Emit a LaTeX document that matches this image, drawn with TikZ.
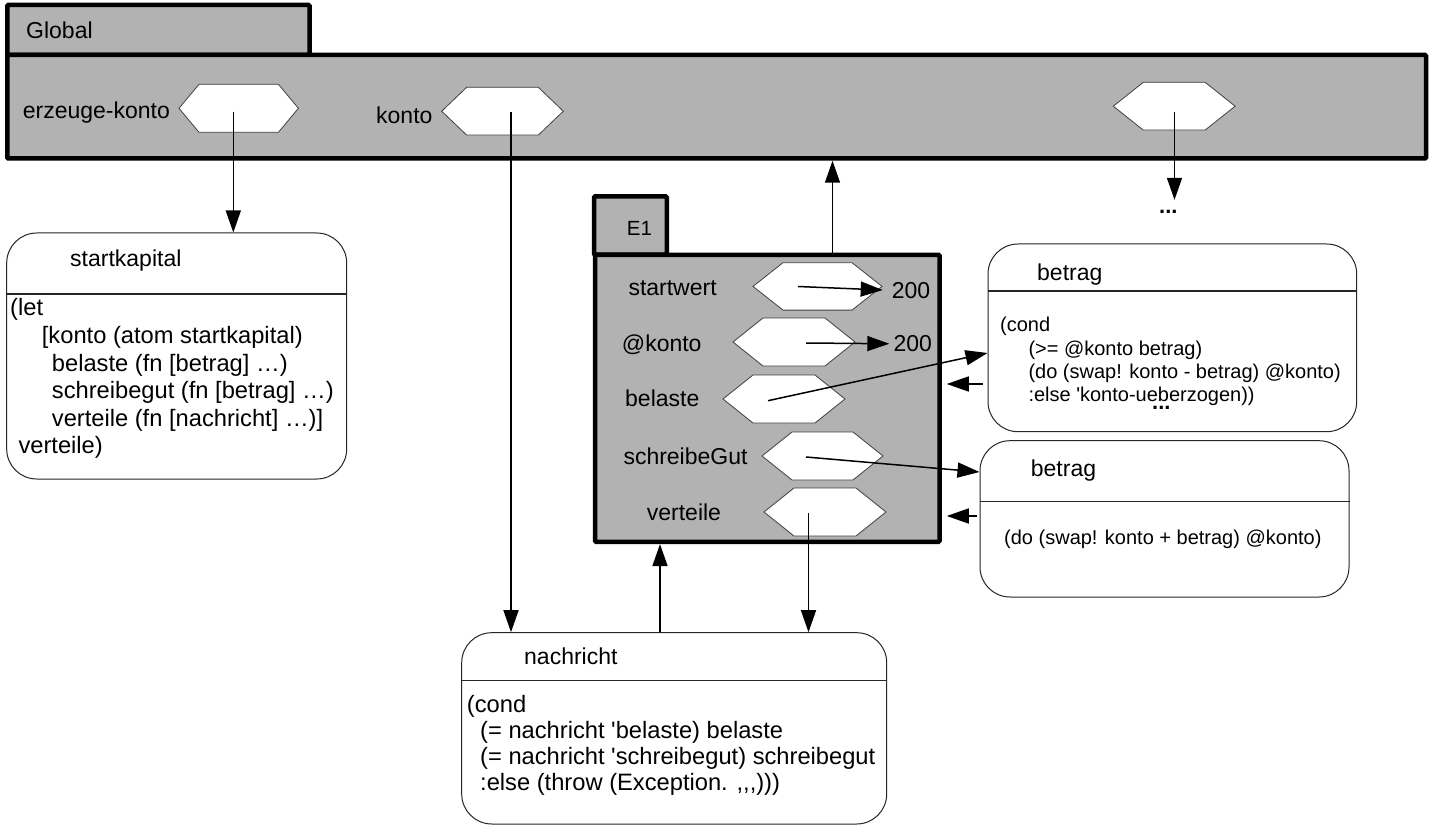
\documentclass[tikz,border=0pt]{standalone}
\usepackage{fontspec}
\setmainfont{Liberation Sans}
\usetikzlibrary{arrows.meta}
\definecolor{framegray}{gray}{0.70}
\definecolor{hexgray}{gray}{0.25}
\newcommand\hexa[6]{%
  \draw[hexline] ({#2-#4},#3) -- ({#2-#4+#5},{#3-#6}) -- ({#2+#4-#5},{#3-#6}) -- ({#2+#4},#3)
    -- ({#2+#4-#5},{#3+#6}) -- ({#2-#4+#5},{#3+#6}) -- cycle;
  \coordinate (#1) at (#2,#3);}
\begin{document}
\begin{tikzpicture}[x=1pt,y=-1pt,
  frame/.style={draw=black, line width=4.5pt, fill=framegray, rounded corners=1pt, inner sep=0pt},
  rbox/.style={draw=black!85, line width=1pt, fill=white, rounded corners=30pt, inner sep=0pt},
  divline/.style={draw=black!85, line width=1.2pt},
  hexline/.style={draw=hexgray, line width=0.8pt, fill=white},
  arr/.style={line width=1.5pt, -{Triangle[length=22pt,width=15pt]}},
  lbl/.style={inner sep=0pt, anchor=base west, font=\fontsize{23}{27}\selectfont},
  code/.style={inner sep=0pt, anchor=base west, font=\fontsize{23.7}{27}\selectfont},
  codesm/.style={inner sep=0pt, anchor=base west, font=\fontsize{20}{23}\selectfont},
  dotsty/.style={inner sep=0pt, anchor=base west, font=\bfseries\fontsize{22}{24}\selectfont},
]
\useasboundingbox (0,0) rectangle (1433,829);

% Global frame
\node[frame, minimum width=302.2pt, minimum height=50pt] (gtab) at (158.4,30) {};
\node[frame, minimum width=1418.7pt, minimum height=103.5pt] (glob) at (716.65,106.75) {};
\node[lbl] (tGlobal) at (26,39) {Global};
\node[lbl] (tEK) at (22.7,118.3) {erzeuge-konto};
\node[lbl] (tKonto) at (376,123.3) {konto};
\hexa{hek}{238.7}{108.3}{59.7}{20}{24}
\hexa{hk}{502.5}{111.2}{60.8}{25}{23.9}
\hexa{hd}{1174.2}{106.2}{60.9}{30}{23.9}

% E1 frame
\node[frame, minimum width=72.8pt, minimum height=58.2pt] (etab) at (630.4,225.6) {};
\node[frame, minimum width=344.3pt, minimum height=286.9pt] (e1) at (767.35,398.35) {};
\node[lbl, font=\fontsize{20.5}{24}\selectfont] (tE1) at (626.7,236) {E1};
\node[lbl] (tSW) at (628.3,295) {startwert};
\node[lbl] (tAK) at (621.7,351.7) {@konto};
\node[lbl] (tBel) at (625,406.7) {belaste};
\node[lbl] (tSG) at (623.3,464.3) {schreibeGut};
\node[lbl] (tVer) at (646.7,520.7) {verteile};
\hexa{hsw}{817.5}{286.4}{64.5}{30}{23.7}
\hexa{hak}{794}{342}{61}{30}{24}
\hexa{hbel}{784}{399}{61}{30}{24}
\hexa{hsg}{822.5}{456}{60.5}{30}{24}
\hexa{hver}{825}{512}{61}{30}{24}
\node[lbl] (v200a) at (891.7,298.3) {200};
\node[lbl] (v200b) at (893.3,351.7) {200};

% dots below global
\node[dotsty] (gdots) at (1159,213.3) {...};

% startkapital box
\node[rbox, minimum width=340pt, minimum height=246pt] (sk) at (176.7,356) {};
\draw[divline] (sk.west |- 0,294) -- (sk.east |- 0,294);
\node[lbl] (skT) at (70,266) {startkapital};
\node[code] (sk1) at (10,316) {(let};
\node[code] (sk2) at (41.7,343.5) {[konto (atom startkapital)};
\node[code] (sk3) at (51.7,371) {belaste (fn [betrag] …)};
\node[code] (sk4) at (51.7,398.5) {schreibegut (fn [betrag] …)};
\node[code] (sk5) at (51.7,426) {verteile (fn [nachricht] …)]};
\node[code] (sk6) at (18.3,453.5) {verteile)};

% betrag box 1
\node[rbox, minimum width=368.7pt, minimum height=187.7pt] (b1) at (1172.35,337.85) {};
\draw[divline] (b1.west |- 0,291) -- (b1.east |- 0,291);
\node[lbl] (b1T) at (1037,280) {betrag};
\node[codesm] (b1a) at (1000,331) {(cond};
\node[codesm] (b1b) at (1028.3,355) {(>= @konto betrag)};
\node[codesm] (b1c) at (1028.3,378.3) {(do (swap! konto - betrag) @konto)};
\node[codesm] (b1d) at (1028.3,401.3) {:else \textquotesingle konto-ueberzogen))};
\node[dotsty] (b1dots) at (1152,409.5) {...};

% betrag box 2
\node[rbox, minimum width=369pt, minimum height=156.3pt] (b2) at (1164.5,518.85) {};
\draw[divline] (b2.west |- 0,501.7) -- (b2.east |- 0,501.7);
\node[lbl] (b2T) at (1030.7,476) {betrag};
\node[codesm] (b2a) at (1004,544) {(do (swap! konto + betrag) @konto)};

% nachricht box
\node[rbox, minimum width=425pt, minimum height=191.3pt] (na) at (674.2,728.35) {};
\draw[divline] (na.west |- 0,680.7) -- (na.east |- 0,680.7);
\node[lbl] (naT) at (524,664) {nachricht};
\node[code] (na1) at (466.7,712.3) {(cond};
\node[code] (na2) at (480,738.2) {(= nachricht \textquotesingle belaste) belaste};
\node[code] (na3) at (480,764.1) {(= nachricht \textquotesingle schreibegut) schreibegut};
\node[code] (na4) at (480,790) {:else (throw (Exception. {,}{,}{,})))};

% connector anchor points
\coordinate (pEK) at (233.3,111.7);
\coordinate (pK) at (511,112);
\coordinate (pD) at (1174.5,112);
\coordinate (pE1) at (832.5,0);
\coordinate (pSW) at (798,286.5);
\coordinate (pAK) at (806,343);
\coordinate (pBel) at (768,400.7);
\coordinate (yBel) at (0,353);
\coordinate (pSG) at (806,457);
\coordinate (ySG) at (0,472);
\coordinate (yB1) at (0,384);
\coordinate (yB2) at (0,516);
\coordinate (pVer) at (808.5,513);
\coordinate (pUp) at (660,0);

% connectors
\draw[arr] (pEK) -- (pEK |- sk.north);
\draw[arr] (pK) -- (pK |- na.north);
\draw[arr, shorten >=10pt] (pD) -- (pD |- gdots.north);
\draw[arr] (pE1 |- e1.north) -- (pE1 |- glob.south);
\draw[arr, shorten >=9pt] (pSW) -- (v200a.west);
\draw[arr, shorten >=4pt] (pAK) -- (v200b.west);
\draw[arr] (pBel) -- (b1.west |- yBel);
\draw[arr] (pSG) -- (b2.west |- ySG);
\draw[arr, shorten <=5pt, shorten >=5pt] (b1.west |- yB1) -- (e1.east |- yB1);
\draw[arr, shorten <=3pt, shorten >=5pt] (b2.west |- yB2) -- (e1.east |- yB2);
\draw[arr] (pVer) -- (pVer |- na.north);
\draw[arr] (pUp |- na.north) -- (pUp |- e1.south);
\end{tikzpicture}
\end{document}
